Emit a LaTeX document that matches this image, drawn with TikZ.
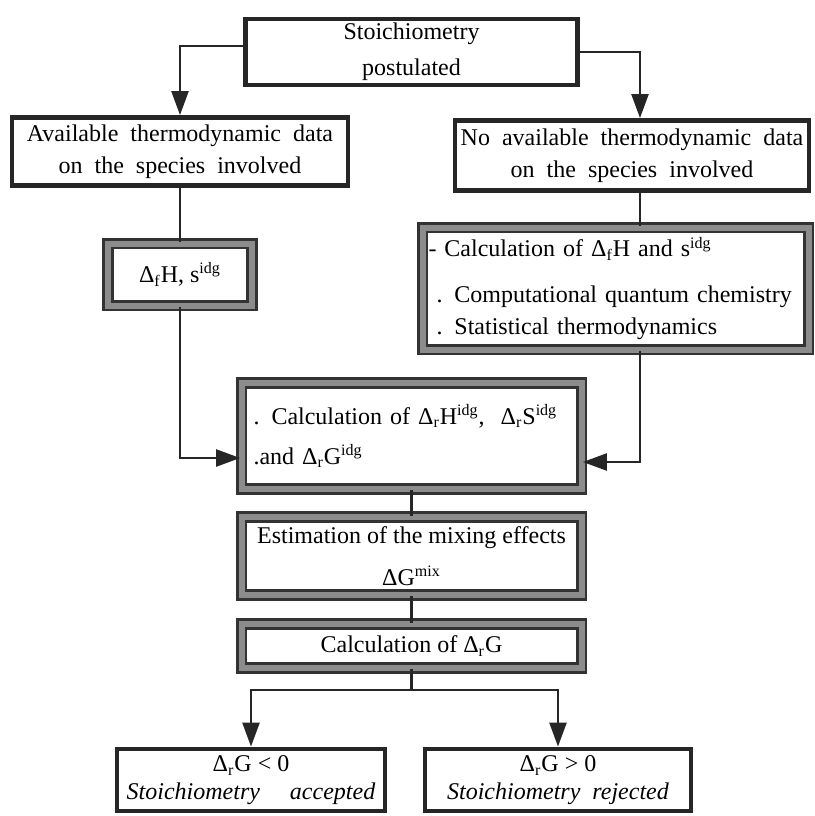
\documentclass[tikz,border=0pt]{standalone}
\usepackage{fontspec}
\setmainfont{Liberation Serif}
\usetikzlibrary{arrows.meta}

\begin{document}
\begin{tikzpicture}[x=0.5pt,y=-0.5pt,
    font=\fontsize{12}{16}\selectfont,
    plainbox/.style={draw=black!85, line width=2.4pt, fill=white, align=center, inner sep=2pt},
    shadedbox/.style={draw=black!80, double=black!45, line width=1.4pt, double distance=3pt, fill=white, inner xsep=6pt, inner ysep=2pt},
    flow/.style={draw=black!85, line width=1.2pt},
    arrowflow/.style={flow, -{Triangle[length=12pt,width=8.5pt]}}]
    \useasboundingbox (0,0) rectangle (815,816);

    % boxes
    \node[plainbox, minimum width=166pt, minimum height=33pt] (postul) at (411.5,52) {Stoichiometry\\[2pt]postulated};
    \node[plainbox, minimum width=168pt, minimum height=34pt] (avail) at (180,151.5) {Available \ thermodynamic \ data\\on \ the \ species \ involved};
    \node[plainbox, minimum width=177pt, minimum height=35pt] (noavail) at (632,155.5) {No \ available \ thermodynamic \ data\\on \ the \ species \ involved};
    \node[shadedbox, align=center, minimum width=72pt, minimum height=31pt] (dfh) at (180,274.5) {Δ\textsubscript{f}H, s\textsuperscript{idg}};
    \node[shadedbox, align=left, inner xsep=3pt, text width=187pt, minimum height=61pt] (calcf) at (615.5,288.5)
        {- Calculation of Δ\textsubscript{f}H and s\textsuperscript{idg}\\[7pt]
         \mbox{\ . Computational quantum chemistry}\\
         \mbox{\ . Statistical thermodynamics}};
    \node[shadedbox, align=left, text width=158pt, minimum height=53pt] (calcr) at (411.5,436)
        {. Calculation of Δ\textsubscript{r}H\textsuperscript{idg}, \ Δ\textsubscript{r}S\textsuperscript{idg}\\[4pt]
         .and Δ\textsubscript{r}G\textsuperscript{idg}};
    \node[shadedbox, align=center, minimum width=170pt, minimum height=39pt] (est) at (411.5,556)
        {Estimation of the mixing effects\\[5pt]ΔG\textsuperscript{mix}};
    \node[shadedbox, align=center, minimum width=170pt, minimum height=22pt] (drg) at (411.5,646) {Calculation of Δ\textsubscript{r}G};
    \node[plainbox, minimum width=134pt, minimum height=31pt] (acc) at (251,780)
        {Δ\textsubscript{r}G < 0\\[-2pt]\textit{Stoichiometry \quad accepted}};
    \node[plainbox, minimum width=133pt, minimum height=31pt] (rej) at (558,780)
        {Δ\textsubscript{r}G > 0\\[-2pt]\textit{Stoichiometry \ rejected}};

    % helper points
    \coordinate (rcol) at (640,0);
    \coordinate (fork) at (411.5,690);

    % connectors
    \draw[arrowflow] ([yshift=3pt]postul.west) -| (avail.north);
    \draw[arrowflow] (postul.east) -| (noavail.north -| rcol);
    \draw[flow] (avail.south) -- (dfh.north);
    \draw[arrowflow] (dfh.south) |- ([yshift=-11pt]calcr.west);
    \draw[flow] (noavail.south -| rcol) -- (calcf.north -| rcol);
    \draw[arrowflow] (calcf.south -| rcol) |- ([yshift=-13pt]calcr.east);
    \draw[flow] (calcr.south) -- (est.north);
    \draw[flow] (est.south) -- (drg.north);
    \draw[flow] (drg.south) -- (fork);
    \draw[arrowflow] (fork) -| (acc.north);
    \draw[arrowflow] (fork) -| (rej.north);
\end{tikzpicture}
\end{document}
